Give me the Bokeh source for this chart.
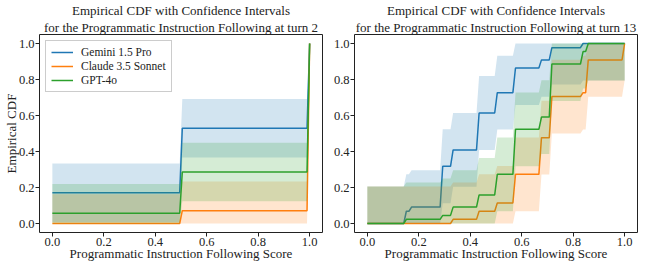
import numpy as np
from bokeh.plotting import figure
from bokeh.layouts import row
from bokeh.models import FixedTicker, Range1d, Title, Legend, LegendItem
from bokeh.embed import file_html
from bokeh.resources import INLINE

MODELS = ["Gemini 1.5 Pro", "Claude 3.5 Sonnet", "GPT-4o"]
COLORS = ["#1f77b4", "#ff7f0e", "#2ca02c"]

# Turn 2: ECDF step positions and levels
T2_GEMINI_X = [0.0, 0.5, 1.0]
T2_GEMINI_F = [0.171, 0.529, 1.0]
T2_CLAUDE_X = [0.0, 0.5, 1.0]
T2_CLAUDE_F = [0.0, 0.071, 1.0]
T2_GPT_X = [0.0, 0.5, 1.0]
T2_GPT_F = [0.057, 0.286, 1.0]
T2_EPS = 0.162  # confidence band half-width

# Turn 13
T13_GEMINI_X = [0.0, 0.143, 0.167, 0.286, 0.333, 0.429, 0.5, 0.571, 0.667, 0.714, 0.833]
T13_GEMINI_F = [0.0, 0.068, 0.091, 0.318, 0.409, 0.614, 0.727, 0.864, 0.909, 0.977, 1.0]
T13_CLAUDE_X = [0.0, 0.333, 0.429, 0.5, 0.571, 0.667, 0.714, 0.833, 0.857, 1.0]
T13_CLAUDE_F = [0.0, 0.023, 0.068, 0.114, 0.273, 0.477, 0.705, 0.727, 0.909, 1.0]
T13_GPT_X = [0.0, 0.143, 0.286, 0.333, 0.429, 0.5, 0.571, 0.667, 0.714, 0.833, 0.857]
T13_GPT_F = [0.0, 0.023, 0.045, 0.091, 0.159, 0.273, 0.523, 0.591, 0.886, 0.955, 1.0]
T13_EPS = 0.205

TICKS = [0.0, 0.2, 0.4, 0.6, 0.8, 1.0]
TICK_LABELS = ["0.0", "0.2", "0.4", "0.6", "0.8", "1.0"]

FONT = "Liberation Serif"
INK = "#222222"
GRID = np.linspace(0, 1, 100)


def step_eval(xs, fs):
    idx = np.searchsorted(np.array(xs), GRID, side="right") - 1
    return np.array(fs)[idx]


def make_panel(series, eps, turn, ylabel, border_left, border_right, legend):
    p = figure(frame_width=283, frame_height=198, output_backend="svg", toolbar_location=None,
               x_range=Range1d(-0.05, 1.05), y_range=Range1d(-0.05, 1.05),
               min_border_left=border_left, min_border_right=border_right,
               min_border_top=28, min_border_bottom=1)
    p.title = None
    t2 = Title(text="for the Programmatic Instruction Following at turn %d" % turn,
               align="center", text_font=FONT, text_font_size="13px",
               text_font_style="normal", text_color=INK, standoff=0, offset=0)
    t1 = Title(text="Empirical CDF with Confidence Intervals",
               align="center", text_font=FONT, text_font_size="13px",
               text_font_style="normal", text_color=INK, standoff=0, offset=0)
    p.add_layout(t2, "above")
    p.add_layout(t1, "above")
    items = []
    for (xs, fs), name, c in zip(series, MODELS, COLORS):
        f = step_eval(xs, fs)
        lo = np.clip(f - eps, 0, 1)
        hi = np.clip(f + eps, 0, 1)
        p.varea(x=GRID, y1=lo, y2=hi, fill_color=c, fill_alpha=0.2)
        r = p.line(GRID, f, line_color=c, line_width=1.5)
        items.append(LegendItem(label=name, renderers=[r]))
    if legend:
        lg = Legend(items=items, location="top_left", label_text_font=FONT,
                    label_text_font_size="11.5px", label_text_color=INK,
                    border_line_color="#cccccc", border_line_alpha=1.0,
                    background_fill_alpha=0.8, margin=6, padding=5,
                    spacing=2, label_height=12, glyph_height=12, glyph_width=22,
                    label_standoff=8)
        p.add_layout(lg, "center")
    p.xgrid.visible = False
    p.ygrid.visible = False
    p.outline_line_color = INK
    p.outline_line_width = 1
    for ax in (p.xaxis[0], p.yaxis[0]):
        ax.ticker = FixedTicker(ticks=TICKS)
        ax.major_label_overrides = {t: l for t, l in zip(TICKS, TICK_LABELS)}
        ax.major_label_text_font = FONT
        ax.major_label_text_font_size = "12.5px"
        ax.major_label_text_color = INK
        ax.axis_label_text_font = FONT
        ax.axis_label_text_font_size = "13px"
        ax.axis_label_text_font_style = "normal"
        ax.axis_label_text_color = INK
        ax.axis_line_color = None
        ax.major_tick_line_color = INK
        ax.major_tick_out = 4
        ax.major_tick_in = 0
        ax.minor_tick_line_color = None
        ax.major_label_standoff = 1
        ax.axis_label_standoff = -3
    p.xaxis.axis_label = "Programmatic Instruction Following Score"
    if ylabel:
        p.yaxis.axis_label = "Empirical CDF"
    return p


left = make_panel([(T2_GEMINI_X, T2_GEMINI_F), (T2_CLAUDE_X, T2_CLAUDE_F), (T2_GPT_X, T2_GPT_F)],
                  T2_EPS, 2, True, 35, 1, True)
right = make_panel([(T13_GEMINI_X, T13_GEMINI_F), (T13_CLAUDE_X, T13_CLAUDE_F), (T13_GPT_X, T13_GPT_F)],
                   T13_EPS, 13, False, 31, 4, False)

layout = row(left, right)
open("out.html", "w").write(file_html(layout, INLINE))
